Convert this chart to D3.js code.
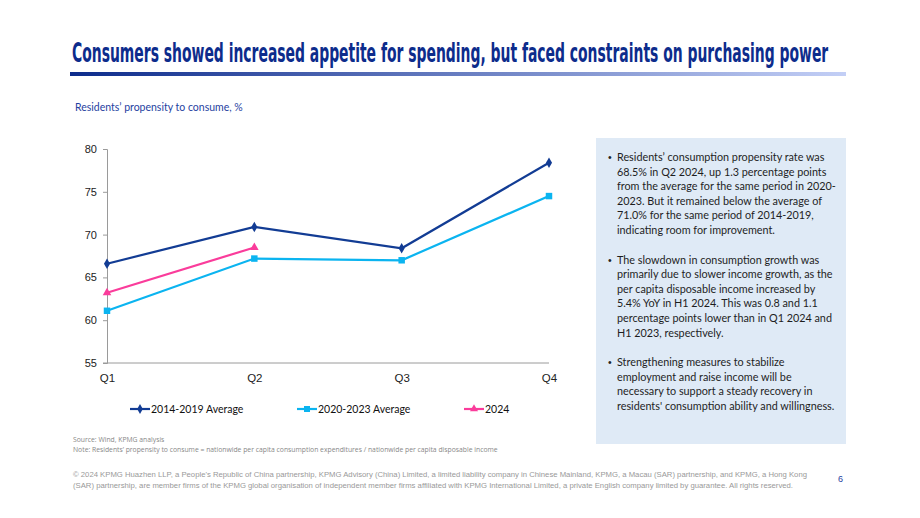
<!DOCTYPE html>
<html>
<head>
<meta charset="utf-8">
<script src="https://cdn.jsdelivr.net/npm/d3@7"></script>
<style>
  body { margin: 0; background: #fff; }
  svg { display: block; font-family: "Liberation Sans", Arial, sans-serif; }
</style>
</head>
<body>
<div id="chart"></div>
<script>
// data
var quarters = ["Q1", "Q2", "Q3", "Q4"];
var avg2014_2019 = [66.6, 70.9, 68.4, 78.4];
var avg2020_2023 = [61.1, 67.2, 67.0, 74.5];
var y2024 = [63.2, 68.5];
var yTicks = [55, 60, 65, 70, 75, 80];

var seriesNames = ["2014-2019 Average", "2020-2023 Average", "2024"];
var seriesColors = ["#123c94", "#0bb4f0", "#fa3c9b"];
var seriesShapes = [d3.symbolDiamond, d3.symbolSquare, d3.symbolTriangle];

var bullets = [
  ["Residents\u2019 consumption propensity rate was", "68.5% in Q2 2024, up 1.3 percentage points",
   "from the average for the same period in 2020-", "2023. But it remained below the average of",
   "71.0% for the same period of 2014-2019,", "indicating room for improvement."],
  ["The slowdown in consumption growth was", "primarily due to slower income growth, as the",
   "per capita disposable income increased by", "5.4% YoY in H1 2024. This was 0.8 and 1.1",
   "percentage points lower than in Q1 2024 and", "H1 2023, respectively."],
  ["Strengthening measures to stabilize", "employment and raise income will be",
   "necessary to support a steady recovery in", "residents' consumption ability and willingness."]
];

var svg = d3.select("#chart").append("svg")
  .attr("width", 920)
  .attr("height", 518);

// title (squeezed to width with a scale) + gradient rule
var title = svg.append("text")
  .attr("x", 0)
  .attr("y", 0)
  .attr("font-family", "'DejaVu Sans Condensed', 'Roboto', sans-serif")
  .attr("font-weight", "bold")
  .attr("font-size", 26)
  .attr("fill", "#0d2c8c")
  .text("Consumers showed increased appetite for spending, but faced constraints on purchasing power");
var titleW = title.node().getComputedTextLength();
title.attr("transform", `translate(72,62) scale(${757 / titleW},1)`);

var grad = svg.append("defs").append("linearGradient").attr("id", "rule");
grad.append("stop").attr("offset", "0%").attr("stop-color", "#0d2c8c");
grad.append("stop").attr("offset", "100%").attr("stop-color", "#c3cff6");
svg.append("rect")
  .attr("x", 70).attr("y", 72)
  .attr("width", 776).attr("height", 4)
  .attr("fill", "url(#rule)");

svg.append("text")
  .attr("x", 75).attr("y", 111)
  .attr("font-family", "Lato, 'Open Sans', sans-serif")
  .attr("font-size", 10.5)
  .attr("fill", "#1f3f9f")
  .text("Residents\u2019 propensity to consume, %");

// chart area
var margin = { left: 107, top: 149, right: 920 - 549, bottom: 518 - 363 };
var x = d3.scalePoint().domain(quarters).range([margin.left, 549]);
var y = d3.scaleLinear().domain([55, 80]).range([363, 149]);

var yAxis = svg.append("g")
  .attr("transform", `translate(${margin.left},0)`)
  .call(d3.axisLeft(y).tickValues(yTicks).tickSize(4).tickPadding(6));
yAxis.select(".domain").attr("stroke", "#9a9a9a");
yAxis.selectAll(".tick line").attr("stroke", "#9a9a9a");
yAxis.selectAll("text").attr("font-size", 11).attr("fill", "#222")
  .attr("font-family", "'Liberation Sans', Arial, sans-serif");

var xAxis = svg.append("g")
  .attr("transform", "translate(0,363)")
  .call(d3.axisBottom(x).tickSize(0).tickPadding(11));
xAxis.select(".domain").attr("stroke", "#9a9a9a").attr("d", `M${margin.left - 4},0H549`);
xAxis.selectAll("text").attr("font-size", 11.5).attr("fill", "#222")
  .attr("font-family", "'Liberation Sans', Arial, sans-serif");

var allSeries = [avg2014_2019, avg2020_2023, y2024];
var line = d3.line()
  .x(function(d, i) { return x(quarters[i]); })
  .y(function(d) { return y(d); });

allSeries.forEach(function(vals, s) {
  svg.append("path")
    .datum(vals)
    .attr("fill", "none")
    .attr("stroke", seriesColors[s])
    .attr("stroke-width", 2.2)
    .attr("d", line);
  svg.selectAll(".pt" + s)
    .data(vals)
    .enter()
    .append("path")
    .attr("class", "pt" + s)
    .attr("transform", function(d, i) { return `translate(${x(quarters[i])},${y(d)})`; })
    .attr("d", d3.symbol().type(seriesShapes[s]).size(s === 1 ? 42 : 32))
    .attr("fill", seriesColors[s]);
});

// legend
var legendX = [130, 297, 464];
seriesNames.forEach(function(name, s) {
  var g = svg.append("g").attr("transform", `translate(${legendX[s]},409)`);
  g.append("line").attr("x1", 0).attr("x2", 20)
    .attr("stroke", seriesColors[s]).attr("stroke-width", 2.2);
  g.append("path").attr("transform", "translate(10,0)")
    .attr("d", d3.symbol().type(seriesShapes[s]).size(s === 1 ? 36 : 28))
    .attr("fill", seriesColors[s]);
  g.append("text").attr("x", 21).attr("y", 4)
    .attr("font-family", "Lato, 'Open Sans', sans-serif")
    .attr("font-size", 10.5).attr("fill", "#111")
    .text(name);
});

// commentary box
svg.append("rect")
  .attr("x", 596).attr("y", 138)
  .attr("width", 250).attr("height", 306)
  .attr("fill", "#dfeaf6");

var lineH = 14.6;
var yPos = 161;
bullets.forEach(function(lines) {
  svg.append("text").attr("x", 608).attr("y", yPos)
    .attr("font-size", 10.5).attr("fill", "#222").text("\u2022");
  lines.forEach(function(t, i) {
    svg.append("text")
      .attr("x", 617).attr("y", yPos + i * lineH)
      .attr("font-family", "Lato, 'Open Sans', sans-serif")
      .attr("font-size", 10.8)
      .attr("fill", "#1e1e1e")
      .text(t);
  });
  yPos += lines.length * lineH + 15;
});

// footnotes
var notes = ["Source: Wind, KPMG analysis",
  "Note: Residents\u2019 propensity to consume = nationwide per capita consumption expenditures / nationwide per capita disposable income"];
notes.forEach(function(t, i) {
  svg.append("text").attr("x", 73).attr("y", 442 + i * 10)
    .attr("font-family", "'Open Sans', sans-serif")
    .attr("font-size", 6.8).attr("fill", "#888").text(t);
});

var legal = ["\u00a9 2024 KPMG Huazhen LLP, a People's Republic of China partnership, KPMG Advisory (China) Limited, a limited liability company in Chinese Mainland, KPMG, a Macau (SAR) partnership, and KPMG, a Hong Kong",
  "(SAR) partnership, are member firms of the KPMG global organisation of independent member firms affiliated with KPMG International Limited, a private English company limited by guarantee. All rights reserved."];
legal.forEach(function(t, i) {
  svg.append("text").attr("x", 73).attr("y", 477 + i * 11)
    .attr("font-family", "'Liberation Sans Narrow', 'Liberation Sans', sans-serif")
    .attr("font-size", 7.3).attr("fill", "#999")
    .attr("textLength", i === 0 ? 734 : 720)
    .attr("lengthAdjust", "spacingAndGlyphs")
    .text(t);
});

svg.append("text").attr("x", 838).attr("y", 482)
  .attr("font-size", 9).attr("fill", "#1f3f9f").text("6");
</script>
</body>
</html>
